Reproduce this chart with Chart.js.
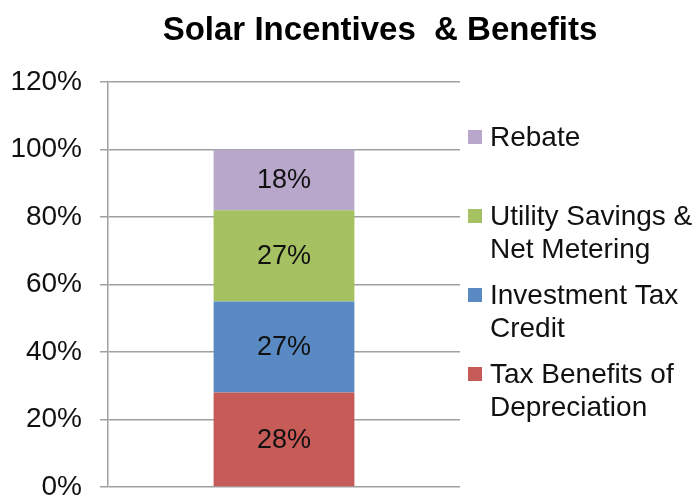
<!DOCTYPE html>
<html>
<head>
<meta charset="utf-8">
<script src="https://cdn.jsdelivr.net/npm/chart.js@4/dist/chart.umd.min.js"></script>
<style>
  html, body { margin: 0; padding: 0; background: #fff; }
  #wrap { width: 699px; height: 498px; }
</style>
</head>
<body>
<div id="wrap"><canvas id="solarChart" width="699" height="498"></canvas></div>
<script>
// data for the chart
const categories = ['Incentives'];
const seriesNames = ['Tax Benefits of Depreciation', 'Investment Tax Credit', 'Utility Savings & Net Metering', 'Rebate'];
const seriesValues = [[28], [27], [27], [18]];
const seriesColors = ['#C65B57', '#5A8AC3', '#A6C162', '#B8A7CB'];
const yTicks = [0, 20, 40, 60, 80, 100, 120];

const FONT = '"Liberation Sans", Arial, sans-serif';

// title, labels inside the bar and the legend on the right
const drawExtras = {
    id: 'drawExtras',
    afterDatasetsDraw(chart) {
        const ctx = chart.ctx;
        ctx.save();

        // labels in the middle of each segment
        ctx.font = '27px ' + FONT;
        ctx.fillStyle = '#111';
        ctx.textAlign = 'center';
        ctx.textBaseline = 'middle';
        chart.data.datasets.forEach((ds, i) => {
            const meta = chart.getDatasetMeta(i);
            meta.data.forEach((bar, j) => {
                const p = bar.getProps(['x', 'y', 'base'], true);
                ctx.fillText(ds.data[j] + '%', p.x, (p.y + p.base) / 2 + 1);
            });
        });

        // title
        ctx.font = 'bold 33px ' + FONT;
        ctx.fillStyle = '#000';
        ctx.fillText('Solar Incentives  & Benefits', 380, 31);

        // legend (reverse order, top = Rebate)
        ctx.font = '28px ' + FONT;
        ctx.textAlign = 'left';
        let y = 137;
        const maxW = 212;
        for (let i = chart.data.datasets.length - 1; i >= 0; i--) {
            const ds = chart.data.datasets[i];
            const words = ds.label.split(' ');
            const lines = [];
            let cur = '';
            words.forEach(w => {
                const test = cur ? cur + ' ' + w : w;
                if (ctx.measureText(test).width > maxW && cur) {
                    lines.push(cur);
                    cur = w;
                } else {
                    cur = test;
                }
            });
            lines.push(cur);
            ctx.fillStyle = ds.backgroundColor;
            ctx.fillRect(468, y - 7, 14, 14);
            ctx.fillStyle = '#111';
            lines.forEach((ln, k) => ctx.fillText(ln, 490, y + k * 33 + 1));
            y += 79;
        }
        ctx.restore();
    }
};

const ctx = document.getElementById('solarChart').getContext('2d');
const solarChart = new Chart(ctx, {
    type: 'bar',
    data: {
        labels: categories,
        datasets: seriesNames.map((name, i) => ({
            label: name,
            data: seriesValues[i],
            backgroundColor: seriesColors[i],
            borderWidth: 0,
            barPercentage: 0.4,
            categoryPercentage: 1
        }))
    },
    options: {
        responsive: false,
        animation: false,
        layout: { padding: { top: 82, bottom: 11, left: 0, right: 239 } },
        plugins: {
            legend: { display: false },
            title: { display: false },
            tooltip: { enabled: false }
        },
        scales: {
            x: {
                stacked: true,
                display: false
            },
            y: {
                stacked: true,
                min: 0,
                max: 120,
                afterBuildTicks: (s) => { s.ticks = yTicks.map(v => ({ value: v })); },
                afterFit: (s) => { s.paddingTop = 0; s.paddingBottom = 0; s.width = 108; },
                ticks: {
                    color: '#111',
                    font: { family: FONT, size: 28 },
                    padding: 18,
                    callback: v => v + '%'
                },
                grid: {
                    color: '#A0A0A0',
                    lineWidth: 1.5,
                    tickLength: 8
                },
                border: { color: '#A0A0A0', width: 1.5 }
            }
        }
    },
    plugins: [drawExtras]
});
</script>
</body>
</html>
